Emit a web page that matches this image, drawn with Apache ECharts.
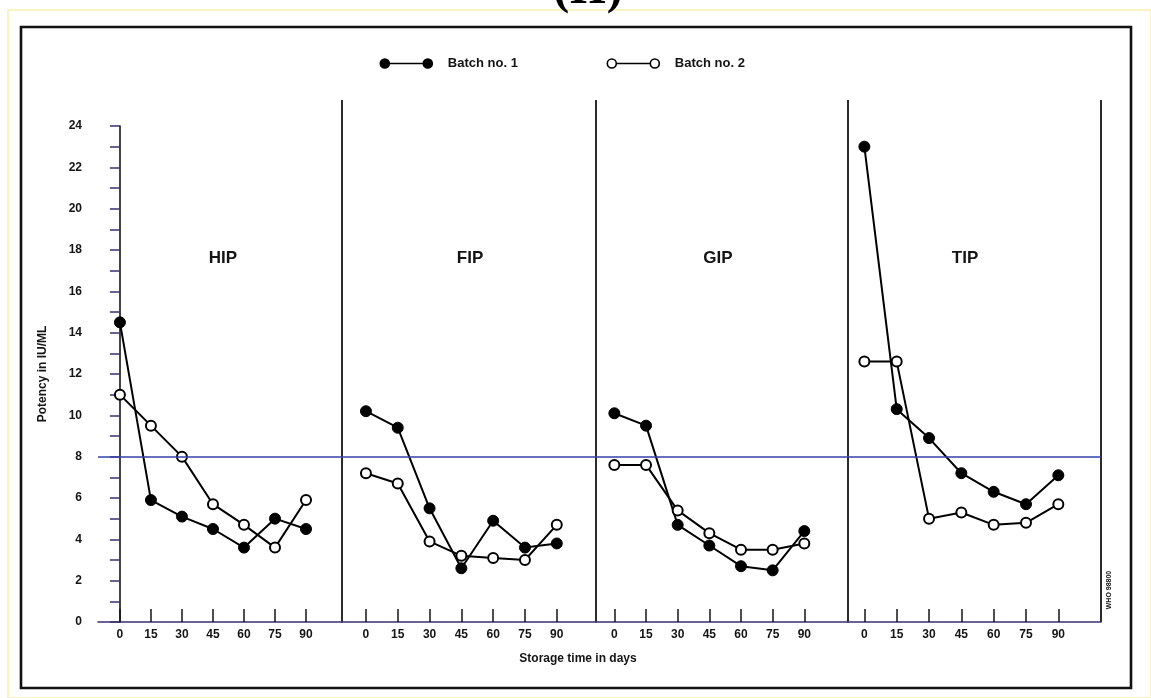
<!DOCTYPE html>
<html>
<head>
<meta charset="utf-8">
<script src="https://cdn.jsdelivr.net/npm/echarts@6/dist/echarts.min.js"></script>
<style>
  html, body { margin: 0; padding: 0; background: #ffffff; }
  #chart { width: 1151px; height: 698px; }
</style>
</head>
<body>
<div id="chart"></div>
<script>
// Storage times (days) shared by every panel; also the x tick labels
const days = [0, 15, 30, 45, 60, 75, 90];
const panelNames = ['HIP', 'FIP', 'GIP', 'TIP'];
const seriesNames = ['Batch no. 1', 'Batch no. 2'];

// Potency in IU/ML for each preparation and batch
const hipBatch1 = [14.5, 5.9, 5.1, 4.5, 3.6, 5.0, 4.5];
const hipBatch2 = [11.0, 9.5, 8.0, 5.7, 4.7, 3.6, 5.9];
const fipBatch1 = [10.2, 9.4, 5.5, 2.6, 4.9, 3.6, 3.8];
const fipBatch2 = [7.2, 6.7, 3.9, 3.2, 3.1, 3.0, 4.7];
const gipBatch1 = [10.1, 9.5, 4.7, 3.7, 2.7, 2.5, 4.4];
const gipBatch2 = [7.6, 7.6, 5.4, 4.3, 3.5, 3.5, 3.8];
const tipBatch1 = [23.0, 10.3, 8.9, 7.2, 6.3, 5.7, 7.1];
const tipBatch2 = [12.6, 12.6, 5.0, 5.3, 4.7, 4.8, 5.7];

// Reference potency level drawn across all panels
const referenceLevel = 8;

const batch1 = [hipBatch1, fipBatch1, gipBatch1, tipBatch1];
const batch2 = [hipBatch2, fipBatch2, gipBatch2, tipBatch2];

// Panel geometry: pixel edges of each panel and the day range it shows
const panelLayout = [
  { left: 98,  right: 342,  min: -10.6, max: 107.4, titleX: 218 },
  { left: 342, right: 596,  min: -11.3, max: 108.5, titleX: 465 },
  { left: 596, right: 848,  min: -8.7,  max: 110.7, titleX: 713 },
  { left: 848, right: 1101, min: -7.6,  max: 109.8, titleX: 960 }
];
const plotTop = 126, plotBottom = 622, chartW = 1151, chartH = 698;

const font = '"Liberation Sans", Arial, Helvetica, sans-serif';
const ink = '#141414';
const axisInk = '#3c2f6e';

const chart = echarts.init(document.getElementById('chart'), null, { renderer: 'canvas' });

const grids = [], xAxes = [], yAxes = [], series = [], titles = [];

panelLayout.forEach((p, i) => {
  grids.push({
    left: p.left, width: p.right - p.left,
    top: plotTop, height: plotBottom - plotTop,
    containLabel: false
  });
  xAxes.push({
    type: 'value', gridIndex: i, min: p.min, max: p.max,
    axisLine: { show: true, lineStyle: { color: axisInk, width: 1.6 } },
    axisTick: { show: true, inside: true, length: 13, customValues: days,
                lineStyle: { color: ink, width: 1.5 } },
    axisLabel: { show: true, customValues: days, margin: 7, color: ink,
                 fontFamily: font, fontWeight: 'bold', fontSize: 12 },
    splitLine: { show: false }
  });
  yAxes.push({
    type: 'value', gridIndex: i, min: 0, max: 24, interval: 2,
    show: i === 0,
    name: i === 0 ? 'Potency in IU/ML' : '',
    nameLocation: 'middle', nameGap: 49,
    nameTextStyle: { fontFamily: font, fontWeight: 'bold', fontSize: 12, color: ink },
    axisLine: { show: true, lineStyle: { color: ink, width: 1.6 } },
    axisTick: { show: true, length: 10, lineStyle: { color: axisInk, width: 1.5 } },
    minorTick: { show: true, splitNumber: 2, length: 10, lineStyle: { color: axisInk, width: 1.5 } },
    axisLabel: { show: true, margin: 16, color: ink, fontFamily: font,
                 fontWeight: 'bold', fontSize: 12 },
    splitLine: { show: false }
  });

  [batch1[i], batch2[i]].forEach((vals, b) => {
    const s = {
      name: seriesNames[b],
      type: 'line',
      xAxisIndex: i, yAxisIndex: i,
      data: days.map((d, k) => [d, vals[k]]),
      symbol: 'circle',
      symbolSize: b === 0 ? 11 : 10,
      showSymbol: true,
      lineStyle: { color: '#000', width: 2 },
      itemStyle: b === 0
        ? { color: '#000', borderColor: '#000', borderWidth: 1 }
        : { color: '#fff', borderColor: '#000', borderWidth: 2 },
      emphasis: { disabled: true },
      animation: false,
      z: b === 0 ? 3 : 4
    };
    if (b === 0) {
      s.markLine = {
        silent: true, symbol: 'none', label: { show: false },
        lineStyle: { color: '#3340a8', width: 1.6, type: 'solid' },
        data: [{ yAxis: referenceLevel }],
        animation: false
      };
    }
    series.push(s);
  });

  titles.push({
    text: panelNames[i], left: p.titleX, top: 245, textAlign: 'center',
    textStyle: { fontFamily: font, fontWeight: 'bold', fontSize: 17, color: ink }
  });
});

// Legend icon: a line joining two circles
const legendIcon = 'path://M0,0M63,10M0.5,5a4.5,4.5 0 1,0 9,0a4.5,4.5 0 1,0 -9,0ZM9.5,5L43.5,5M43.5,5a4.5,4.5 0 1,0 9,0a4.5,4.5 0 1,0 -9,0Z';
const legendBase = {
  orient: 'horizontal', top: 52, itemWidth: 63, itemHeight: 10,
  selectedMode: false,
  textStyle: { fontFamily: font, fontWeight: 'bold', fontSize: 13, color: ink }
};

// Panel separators, outer frame and captions
const graphics = [
  { type: 'rect', silent: true, z: -1,
    shape: { x: 8, y: 10, width: chartW - 8, height: chartH - 10 },
    style: { fill: 'none', stroke: '#fbf3bd', lineWidth: 2 } },
  { type: 'rect', silent: true,
    shape: { x: 21, y: 27, width: 1110, height: 661 },
    style: { fill: 'none', stroke: '#111', lineWidth: 2.6 } },
  { type: 'text', silent: true, x: 588, y: 15,
    style: { text: '(II)', fill: '#000', font: 'bold 48px "Liberation Serif", "Times New Roman", serif',
             textAlign: 'center', textVerticalAlign: 'bottom' } },
  { type: 'text', silent: true, x: 578, y: 659,
    style: { text: 'Storage time in days', fill: ink, font: 'bold 12px ' + font,
             textAlign: 'center', textVerticalAlign: 'middle' } },
  { type: 'text', silent: true, x: 1109, y: 590, rotation: Math.PI / 2,
    style: { text: 'WHO 98800', fill: ink, font: 'bold 7px ' + font,
             textAlign: 'center', textVerticalAlign: 'middle' } }
];
panelLayout.forEach(p => {
  graphics.push({
    type: 'line', silent: true,
    shape: { x1: p.right, y1: 100, x2: p.right, y2: plotBottom },
    style: { stroke: ink, lineWidth: 1.8 }
  });
});

chart.setOption({
  animation: false,
  backgroundColor: '#ffffff',
  title: titles,
  legend: [
    Object.assign({}, legendBase, { left: 374, data: [{ name: seriesNames[0], icon: legendIcon,
      itemStyle: { color: '#000', borderColor: '#000', borderWidth: 1.6 } }] }),
    Object.assign({}, legendBase, { left: 601, data: [{ name: seriesNames[1], icon: legendIcon,
      itemStyle: { color: '#fff', borderColor: '#000', borderWidth: 1.6 } }] })
  ],
  grid: grids,
  xAxis: xAxes,
  yAxis: yAxes,
  series: series,
  graphic: graphics
});
</script>
</body>
</html>
